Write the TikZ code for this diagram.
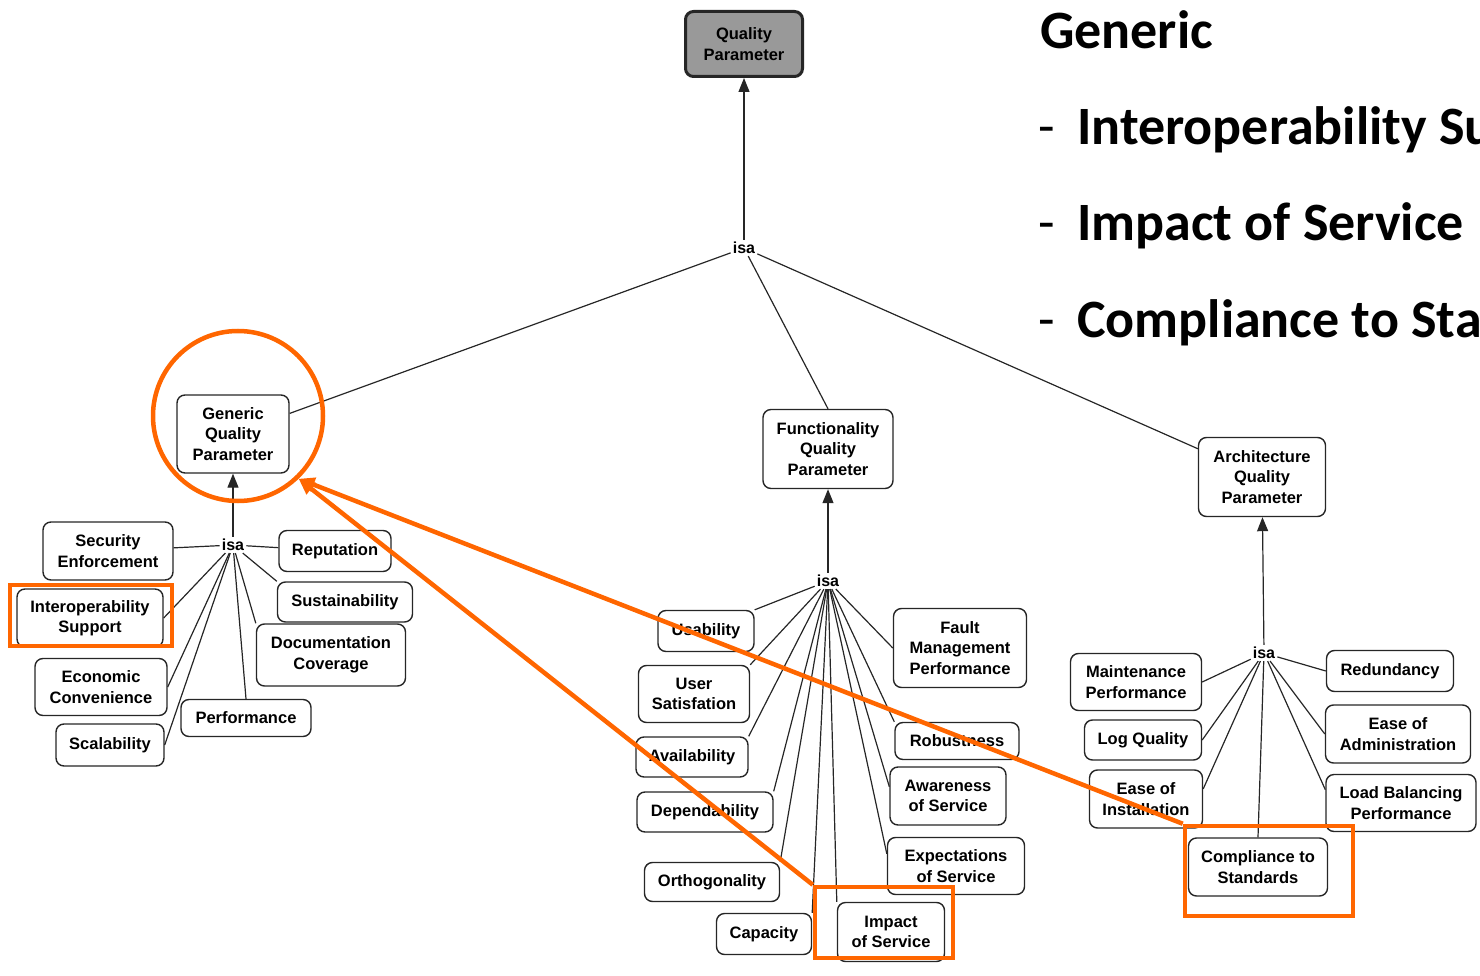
\documentclass[tikz,border=0pt]{standalone}
\usepackage{fontspec}
\setmainfont{Liberation Sans}
\newfontfamily\slidefont{Carlito}
\usepackage{tikz}
\usetikzlibrary{arrows.meta,positioning,calc}
\definecolor{hlorange}{RGB}{255,102,0}
\tikzstyle{param}=[draw=black!85,line width=1.4pt,rounded corners=8pt,fill=white,align=center,inner sep=2pt,font=\fontsize{16.5}{20.5}\selectfont\bfseries]
\tikzstyle{isa}=[inner sep=2pt,font=\fontsize{16}{18}\selectfont\bfseries]
\tikzstyle{isline}=[draw=black!85,line width=1.2pt]
\tikzstyle{isarrow}=[isline,-{Triangle[length=14pt,width=11pt]}]
\tikzstyle{hl}=[draw=hlorange,line width=4.5pt]
\tikzstyle{slide}=[anchor=base west,inner sep=0pt,font=\fontsize{54}{60}\selectfont\slidefont\bfseries]
\tikzstyle{slidedash}=[anchor=base west,inner sep=0pt,font=\fontsize{54}{60}\selectfont\slidefont]

\begin{document}
\begin{tikzpicture}[x=1pt,y=-1pt]
\useasboundingbox (0,0) rectangle (1480,976);
\clip (0,0) rectangle (1480,976);

% top level
\node[param,fill=black!40,line width=3pt,minimum width=117pt,minimum height=65pt] (qp) at (744,44) {Quality\\Parameter};
\node[isa] (isa0) at (744,248) {isa};
\node[param,minimum width=112pt,minimum height=78pt] (gqp) at (233,434) {Generic\\Quality\\Parameter};
\node[param,minimum width=130pt,minimum height=79pt] (fqp) at (828,449) {Functionality\\Quality\\Parameter};
\node[param,minimum width=127pt,minimum height=79pt] (aqp) at (1262,477) {Architecture\\Quality\\Parameter};
\draw[isarrow] (isa0) -- (qp);
\draw[isline] (isa0) -- (gqp);
\draw[isline] (isa0) -- (fqp.north);
\draw[isline] (isa0) -- (aqp);

% generic
\node[isa] (isa1) at (233,545) {isa};
\node[param,minimum width=130pt,minimum height=58pt] (secenf) at (108,551) {Security\\Enforcement};
\node[param,minimum width=112pt,minimum height=41pt] (rep) at (335,551) {Reputation};
\node[param,minimum width=146pt,minimum height=58pt] (interop) at (90,618) {Interoperability\\Support};
\node[param,minimum width=135pt,minimum height=40pt] (sustain) at (345,602) {Sustainability};
\node[param,minimum width=149pt,minimum height=62pt] (doccov) at (331,655) {Documentation\\Coverage};
\node[param,minimum width=132pt,minimum height=57pt] (econ) at (101,687) {Economic\\Convenience};
\node[param,minimum width=130pt,minimum height=37pt] (perf) at (246,718) {Performance};
\node[param,minimum width=108pt,minimum height=42pt] (scal) at (110,745) {Scalability};
\draw[isarrow] (isa1) -- (gqp);
\draw[isline] (isa1) -- (secenf);
\draw[isline] (isa1) -- (rep);
\draw[isline] (isa1) -- (interop.east);
\draw[isline] (isa1) -- (econ.east);
\draw[isline] (isa1) -- (scal.east);
\draw[isline] (isa1) -- (perf.north);
\draw[isline] (isa1) -- (doccov.north west);
\draw[isline] (isa1) -- (sustain.north west);

% functionality
\node[isa] (isa2) at (828,581) {isa};
\node[param,minimum width=96pt,minimum height=41pt] (usab) at (706,631) {Usability};
\node[param,minimum width=133pt,minimum height=79pt] (fault) at (960,648) {Fault\\Management\\Performance};
\node[param,minimum width=111pt,minimum height=57pt] (usersat) at (694,694) {User\\Satisfation};
\node[param,minimum width=112pt,minimum height=40pt] (avail) at (692,757) {Availability};
\node[param,minimum width=124pt,minimum height=37pt] (robust) at (957,741) {Robustness};
\node[param,minimum width=116pt,minimum height=58pt] (aware) at (948,796) {Awareness\\of Service};
\node[param,minimum width=136pt,minimum height=40pt] (depend) at (705,812) {Dependability};
\node[param,minimum width=137pt,minimum height=57pt] (expect) at (956,866) {Expectations\\of Service};
\node[param,minimum width=135pt,minimum height=39pt] (ortho) at (712,882) {Orthogonality};
\node[param,minimum width=95pt,minimum height=41pt] (capac) at (764,934) {Capacity};
\node[param,minimum width=107pt,minimum height=59pt] (impact) at (891,932) {Impact\\of Service};
\draw[isarrow] (isa2) -- (fqp);
\foreach \n in {usab,usersat,avail,depend,ortho,capac}
  \draw[isline] (isa2) -- (\n.north east);
\draw[isline] (isa2) -- (impact.north west);
\draw[isline] (isa2) -- (expect.170);
\draw[isline] (isa2) -- (aware.171);
\draw[isline] (isa2) -- (robust.north west);
\draw[isline] (isa2) -- (fault.west);

% architecture
\node[isa] (isa3) at (1264,653) {isa};
\node[param,minimum width=131pt,minimum height=57pt] (maint) at (1136,682) {Maintenance\\Performance};
\node[param,minimum width=127pt,minimum height=41pt] (redund) at (1390,671) {Redundancy};
\node[param,minimum width=117pt,minimum height=40pt] (logq) at (1143,740) {Log Quality};
\node[param,minimum width=145pt,minimum height=58pt] (admin) at (1398,734) {Ease of\\Administration};
\node[param,minimum width=113pt,minimum height=58pt] (inst) at (1146,799) {Ease of\\Installation};
\node[param,minimum width=150pt,minimum height=57pt] (loadbal) at (1401,803) {Load Balancing\\Performance};
\node[param,minimum width=139pt,minimum height=58pt] (compl) at (1258,867) {Compliance to\\Standards};
\draw[isarrow] (isa3) -- (aqp);
\draw[isline] (isa3) -- (maint.east);
\draw[isline] (isa3) -- (redund.west);
\draw[isline] (isa3) -- (logq.east);
\draw[isline] (isa3) -- (inst.10);
\draw[isline] (isa3) -- (compl.north);
\draw[isline] (isa3) -- (loadbal.170);
\draw[isline] (isa3) -- (admin.west);

% highlights
\node[hl,circle,minimum size=170pt] (hlgen) at (238,416) {};
\node[hl,minimum width=162pt,minimum height=61pt] (hlint) at (91,615.5) {};
\node[hl,minimum width=138pt,minimum height=71pt] (hlimp) at (884,922.5) {};
\node[hl,minimum width=168pt,minimum height=90pt] (hlcomp) at (1269,871) {};
\draw[hl,-{Triangle[length=16pt,width=14pt]}] (hlimp.north west) -- (hlgen.-46);
\draw[hl,-{Triangle[length=16pt,width=14pt]}] (hlcomp.north west) -- (hlgen.-46);

% slide text
\node[slide] (tgen) at (1040,49) {Generic};
\node[slidedash] (d1) at (1038,145) {-};
\node[slide] (tint) at (1077,145) {Interoperability Support};
\node[slidedash] (d2) at (1038,241) {-};
\node[slide] (timp) at (1077,241) {Impact of Service};
\node[slidedash] (d3) at (1038,337) {-};
\node[slide] (tcomp) at (1077,337) {Compliance to Standards};
\end{tikzpicture}
\end{document}
